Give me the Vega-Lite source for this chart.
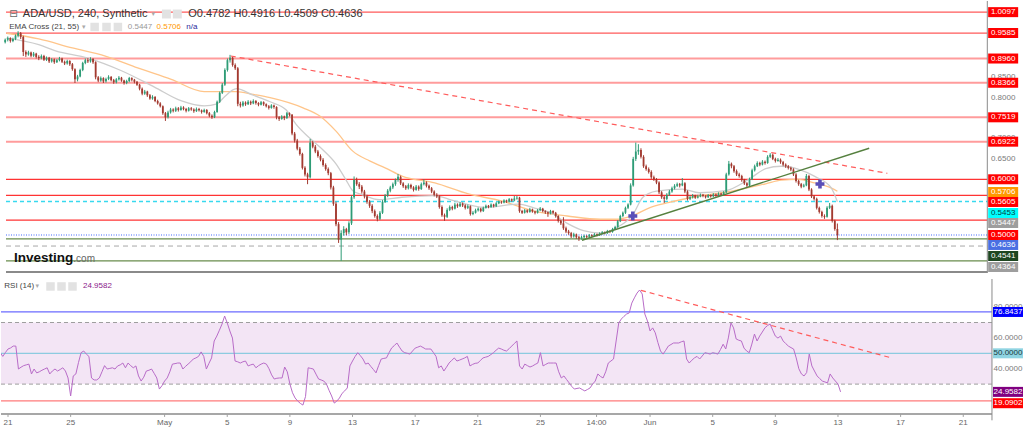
{
"$schema":"https://vega.github.io/schema/vega-lite/v6.json",
"padding":0,
"background":"#ffffff",
"spacing":4,
"resolve":{"scale":{"color":"independent"}},
"config":{"view":{"stroke":null},"axis":{"grid":false},"text":{"font":"Liberation Sans"}},
"datasets":{
"one":[{}],
"candles":[
{"t":"2022-04-20T12:00","o":0.936,"h":0.945,"l":0.933,"c":0.942,"r":50.4},
{"t":"2022-04-20T16:00","o":0.942,"h":0.95,"l":0.938,"c":0.946,"r":48},
{"t":"2022-04-20T20:00","o":0.946,"h":0.948,"l":0.935,"c":0.939,"r":50.5},
{"t":"2022-04-21T00:00","o":0.939,"h":0.947,"l":0.936,"c":0.944,"r":52.8},
{"t":"2022-04-21T04:00","o":0.944,"h":0.955,"l":0.941,"c":0.952,"r":53.5},
{"t":"2022-04-21T08:00","o":0.952,"h":0.963,"l":0.948,"c":0.958,"r":54.7},
{"t":"2022-04-21T12:00","o":0.958,"h":0.961,"l":0.944,"c":0.949,"r":54.7},
{"t":"2022-04-21T16:00","o":0.949,"h":0.952,"l":0.902,"c":0.912,"r":39.8},
{"t":"2022-04-21T20:00","o":0.912,"h":0.916,"l":0.9,"c":0.906,"r":41},
{"t":"2022-04-22T00:00","o":0.906,"h":0.915,"l":0.903,"c":0.911,"r":42},
{"t":"2022-04-22T04:00","o":0.911,"h":0.913,"l":0.899,"c":0.903,"r":42.5},
{"t":"2022-04-22T08:00","o":0.903,"h":0.912,"l":0.9,"c":0.908,"r":43},
{"t":"2022-04-22T12:00","o":0.908,"h":0.91,"l":0.896,"c":0.9,"r":36.6},
{"t":"2022-04-22T16:00","o":0.9,"h":0.904,"l":0.892,"c":0.897,"r":39.8},
{"t":"2022-04-22T20:00","o":0.897,"h":0.906,"l":0.894,"c":0.902,"r":37.3},
{"t":"2022-04-23T00:00","o":0.902,"h":0.905,"l":0.89,"c":0.893,"r":38},
{"t":"2022-04-23T04:00","o":0.893,"h":0.901,"l":0.89,"c":0.898,"r":39},
{"t":"2022-04-23T08:00","o":0.898,"h":0.9,"l":0.885,"c":0.889,"r":39.8},
{"t":"2022-04-23T12:00","o":0.889,"h":0.897,"l":0.886,"c":0.894,"r":40.6},
{"t":"2022-04-23T16:00","o":0.894,"h":0.896,"l":0.883,"c":0.887,"r":36.6},
{"t":"2022-04-23T20:00","o":0.887,"h":0.895,"l":0.885,"c":0.892,"r":38.5},
{"t":"2022-04-24T00:00","o":0.892,"h":0.9,"l":0.889,"c":0.896,"r":39.8},
{"t":"2022-04-24T04:00","o":0.896,"h":0.898,"l":0.885,"c":0.888,"r":38.5},
{"t":"2022-04-24T08:00","o":0.888,"h":0.891,"l":0.88,"c":0.884,"r":39.5},
{"t":"2022-04-24T12:00","o":0.884,"h":0.893,"l":0.881,"c":0.89,"r":40.6},
{"t":"2022-04-24T16:00","o":0.89,"h":0.892,"l":0.878,"c":0.882,"r":38.5},
{"t":"2022-04-24T20:00","o":0.882,"h":0.885,"l":0.866,"c":0.87,"r":34},
{"t":"2022-04-25T00:00","o":0.87,"h":0.872,"l":0.836,"c":0.845,"r":22.3},
{"t":"2022-04-25T04:00","o":0.845,"h":0.856,"l":0.84,"c":0.852,"r":35.3},
{"t":"2022-04-25T08:00","o":0.852,"h":0.871,"l":0.85,"c":0.868,"r":36.6},
{"t":"2022-04-25T12:00","o":0.868,"h":0.888,"l":0.865,"c":0.885,"r":44},
{"t":"2022-04-25T16:00","o":0.885,"h":0.896,"l":0.882,"c":0.892,"r":50.4},
{"t":"2022-04-25T20:00","o":0.892,"h":0.897,"l":0.885,"c":0.889,"r":51.5},
{"t":"2022-04-26T00:00","o":0.889,"h":0.899,"l":0.886,"c":0.895,"r":49.5},
{"t":"2022-04-26T04:00","o":0.895,"h":0.897,"l":0.883,"c":0.887,"r":48},
{"t":"2022-04-26T08:00","o":0.887,"h":0.889,"l":0.845,"c":0.85,"r":34},
{"t":"2022-04-26T12:00","o":0.85,"h":0.853,"l":0.838,"c":0.842,"r":32.7},
{"t":"2022-04-26T16:00","o":0.842,"h":0.852,"l":0.839,"c":0.848,"r":32.7},
{"t":"2022-04-26T20:00","o":0.848,"h":0.85,"l":0.836,"c":0.84,"r":34},
{"t":"2022-04-27T00:00","o":0.84,"h":0.849,"l":0.837,"c":0.846,"r":38},
{"t":"2022-04-27T04:00","o":0.846,"h":0.855,"l":0.843,"c":0.851,"r":42},
{"t":"2022-04-27T08:00","o":0.851,"h":0.853,"l":0.84,"c":0.843,"r":39.8},
{"t":"2022-04-27T12:00","o":0.843,"h":0.846,"l":0.834,"c":0.838,"r":40.2},
{"t":"2022-04-27T16:00","o":0.838,"h":0.848,"l":0.835,"c":0.845,"r":40.6},
{"t":"2022-04-27T20:00","o":0.845,"h":0.853,"l":0.842,"c":0.849,"r":39.8},
{"t":"2022-04-28T00:00","o":0.849,"h":0.851,"l":0.839,"c":0.842,"r":41.8},
{"t":"2022-04-28T04:00","o":0.842,"h":0.844,"l":0.832,"c":0.836,"r":42.5},
{"t":"2022-04-28T08:00","o":0.836,"h":0.844,"l":0.833,"c":0.841,"r":43.7},
{"t":"2022-04-28T12:00","o":0.841,"h":0.851,"l":0.838,"c":0.848,"r":40.6},
{"t":"2022-04-28T16:00","o":0.848,"h":0.85,"l":0.84,"c":0.844,"r":43.7},
{"t":"2022-04-28T20:00","o":0.844,"h":0.846,"l":0.835,"c":0.839,"r":42},
{"t":"2022-04-29T00:00","o":0.839,"h":0.841,"l":0.829,"c":0.832,"r":40.6},
{"t":"2022-04-29T04:00","o":0.832,"h":0.834,"l":0.818,"c":0.822,"r":41.8},
{"t":"2022-04-29T08:00","o":0.822,"h":0.825,"l":0.806,"c":0.81,"r":35.3},
{"t":"2022-04-29T12:00","o":0.81,"h":0.819,"l":0.807,"c":0.815,"r":32},
{"t":"2022-04-29T16:00","o":0.815,"h":0.817,"l":0.802,"c":0.806,"r":34.5},
{"t":"2022-04-29T20:00","o":0.806,"h":0.809,"l":0.795,"c":0.798,"r":38.5},
{"t":"2022-04-30T00:00","o":0.798,"h":0.806,"l":0.795,"c":0.802,"r":39},
{"t":"2022-04-30T04:00","o":0.802,"h":0.804,"l":0.789,"c":0.792,"r":39.8},
{"t":"2022-04-30T08:00","o":0.792,"h":0.795,"l":0.783,"c":0.786,"r":37},
{"t":"2022-04-30T12:00","o":0.786,"h":0.789,"l":0.776,"c":0.779,"r":34},
{"t":"2022-04-30T16:00","o":0.779,"h":0.781,"l":0.758,"c":0.762,"r":26.8},
{"t":"2022-04-30T20:00","o":0.762,"h":0.765,"l":0.743,"c":0.752,"r":29},
{"t":"2022-05-01T00:00","o":0.752,"h":0.768,"l":0.749,"c":0.764,"r":32},
{"t":"2022-05-01T04:00","o":0.764,"h":0.775,"l":0.761,"c":0.771,"r":34},
{"t":"2022-05-01T08:00","o":0.771,"h":0.774,"l":0.764,"c":0.768,"r":38},
{"t":"2022-05-01T12:00","o":0.768,"h":0.778,"l":0.765,"c":0.774,"r":43},
{"t":"2022-05-01T16:00","o":0.774,"h":0.777,"l":0.766,"c":0.77,"r":43.3},
{"t":"2022-05-01T20:00","o":0.77,"h":0.78,"l":0.768,"c":0.776,"r":43.7},
{"t":"2022-05-02T00:00","o":0.776,"h":0.779,"l":0.769,"c":0.772,"r":43.7},
{"t":"2022-05-02T04:00","o":0.772,"h":0.775,"l":0.764,"c":0.768,"r":39.8},
{"t":"2022-05-02T08:00","o":0.768,"h":0.777,"l":0.766,"c":0.774,"r":41.5},
{"t":"2022-05-02T12:00","o":0.774,"h":0.777,"l":0.768,"c":0.771,"r":43},
{"t":"2022-05-02T16:00","o":0.771,"h":0.774,"l":0.763,"c":0.767,"r":44.5},
{"t":"2022-05-02T20:00","o":0.767,"h":0.776,"l":0.765,"c":0.772,"r":46.3},
{"t":"2022-05-03T00:00","o":0.772,"h":0.775,"l":0.766,"c":0.769,"r":47},
{"t":"2022-05-03T04:00","o":0.769,"h":0.771,"l":0.761,"c":0.765,"r":48},
{"t":"2022-05-03T08:00","o":0.765,"h":0.773,"l":0.763,"c":0.77,"r":50.9},
{"t":"2022-05-03T12:00","o":0.77,"h":0.772,"l":0.759,"c":0.762,"r":48},
{"t":"2022-05-03T16:00","o":0.762,"h":0.765,"l":0.752,"c":0.756,"r":39.8},
{"t":"2022-05-03T20:00","o":0.756,"h":0.759,"l":0.748,"c":0.752,"r":43.5},
{"t":"2022-05-04T00:00","o":0.752,"h":0.768,"l":0.75,"c":0.765,"r":47},
{"t":"2022-05-04T04:00","o":0.765,"h":0.793,"l":0.763,"c":0.79,"r":58},
{"t":"2022-05-04T08:00","o":0.79,"h":0.815,"l":0.787,"c":0.812,"r":61.2},
{"t":"2022-05-04T12:00","o":0.812,"h":0.836,"l":0.809,"c":0.832,"r":65},
{"t":"2022-05-04T16:00","o":0.832,"h":0.872,"l":0.829,"c":0.868,"r":69},
{"t":"2022-05-04T20:00","o":0.868,"h":0.896,"l":0.864,"c":0.892,"r":74.2},
{"t":"2022-05-05T00:00","o":0.892,"h":0.905,"l":0.886,"c":0.898,"r":69.7},
{"t":"2022-05-05T04:00","o":0.898,"h":0.901,"l":0.876,"c":0.88,"r":64.5},
{"t":"2022-05-05T08:00","o":0.88,"h":0.884,"l":0.868,"c":0.872,"r":59.9},
{"t":"2022-05-05T12:00","o":0.872,"h":0.875,"l":0.779,"c":0.785,"r":45},
{"t":"2022-05-05T16:00","o":0.785,"h":0.79,"l":0.776,"c":0.781,"r":44.5},
{"t":"2022-05-05T20:00","o":0.781,"h":0.792,"l":0.778,"c":0.788,"r":43.7},
{"t":"2022-05-06T00:00","o":0.788,"h":0.791,"l":0.78,"c":0.784,"r":44.5},
{"t":"2022-05-06T04:00","o":0.784,"h":0.794,"l":0.782,"c":0.79,"r":45},
{"t":"2022-05-06T08:00","o":0.79,"h":0.793,"l":0.782,"c":0.786,"r":41.8},
{"t":"2022-05-06T12:00","o":0.786,"h":0.796,"l":0.784,"c":0.792,"r":42.5},
{"t":"2022-05-06T16:00","o":0.792,"h":0.794,"l":0.783,"c":0.787,"r":43},
{"t":"2022-05-06T20:00","o":0.787,"h":0.789,"l":0.779,"c":0.783,"r":40.6},
{"t":"2022-05-07T00:00","o":0.783,"h":0.792,"l":0.781,"c":0.789,"r":42},
{"t":"2022-05-07T04:00","o":0.789,"h":0.791,"l":0.78,"c":0.784,"r":43},
{"t":"2022-05-07T08:00","o":0.784,"h":0.786,"l":0.776,"c":0.779,"r":43.7},
{"t":"2022-05-07T12:00","o":0.779,"h":0.782,"l":0.771,"c":0.775,"r":43},
{"t":"2022-05-07T16:00","o":0.775,"h":0.784,"l":0.773,"c":0.781,"r":40},
{"t":"2022-05-07T20:00","o":0.781,"h":0.783,"l":0.773,"c":0.777,"r":36},
{"t":"2022-05-08T00:00","o":0.777,"h":0.779,"l":0.747,"c":0.752,"r":33.3},
{"t":"2022-05-08T04:00","o":0.752,"h":0.755,"l":0.743,"c":0.748,"r":33.8},
{"t":"2022-05-08T08:00","o":0.748,"h":0.757,"l":0.746,"c":0.754,"r":34},
{"t":"2022-05-08T12:00","o":0.754,"h":0.756,"l":0.745,"c":0.75,"r":34},
{"t":"2022-05-08T16:00","o":0.75,"h":0.765,"l":0.748,"c":0.762,"r":41.1},
{"t":"2022-05-08T20:00","o":0.762,"h":0.764,"l":0.754,"c":0.758,"r":38},
{"t":"2022-05-09T00:00","o":0.758,"h":0.76,"l":0.708,"c":0.712,"r":30.1},
{"t":"2022-05-09T04:00","o":0.712,"h":0.716,"l":0.69,"c":0.695,"r":24.4},
{"t":"2022-05-09T08:00","o":0.695,"h":0.699,"l":0.671,"c":0.675,"r":21},
{"t":"2022-05-09T12:00","o":0.675,"h":0.679,"l":0.658,"c":0.662,"r":19},
{"t":"2022-05-09T16:00","o":0.662,"h":0.665,"l":0.624,"c":0.628,"r":17.5},
{"t":"2022-05-09T20:00","o":0.628,"h":0.632,"l":0.607,"c":0.612,"r":16.4},
{"t":"2022-05-10T00:00","o":0.612,"h":0.616,"l":0.588,"c":0.605,"r":22},
{"t":"2022-05-10T04:00","o":0.605,"h":0.699,"l":0.602,"c":0.69,"r":40.6},
{"t":"2022-05-10T08:00","o":0.69,"h":0.694,"l":0.676,"c":0.68,"r":40.2},
{"t":"2022-05-10T12:00","o":0.68,"h":0.684,"l":0.664,"c":0.668,"r":39.8},
{"t":"2022-05-10T16:00","o":0.668,"h":0.672,"l":0.653,"c":0.657,"r":36.5},
{"t":"2022-05-10T20:00","o":0.657,"h":0.661,"l":0.644,"c":0.648,"r":33.3},
{"t":"2022-05-11T00:00","o":0.648,"h":0.652,"l":0.631,"c":0.635,"r":32.7},
{"t":"2022-05-11T04:00","o":0.635,"h":0.639,"l":0.621,"c":0.625,"r":32},
{"t":"2022-05-11T08:00","o":0.625,"h":0.629,"l":0.61,"c":0.615,"r":30.1},
{"t":"2022-05-11T12:00","o":0.615,"h":0.618,"l":0.575,"c":0.58,"r":26},
{"t":"2022-05-11T16:00","o":0.58,"h":0.584,"l":0.535,"c":0.54,"r":22.3},
{"t":"2022-05-11T20:00","o":0.54,"h":0.545,"l":0.485,"c":0.49,"r":17.7},
{"t":"2022-05-12T00:00","o":0.49,"h":0.495,"l":0.444,"c":0.452,"r":19},
{"t":"2022-05-12T04:00","o":0.452,"h":0.475,"l":0.4,"c":0.468,"r":21},
{"t":"2022-05-12T08:00","o":0.468,"h":0.485,"l":0.462,"c":0.478,"r":24},
{"t":"2022-05-12T12:00","o":0.478,"h":0.481,"l":0.463,"c":0.47,"r":25.6},
{"t":"2022-05-12T16:00","o":0.47,"h":0.497,"l":0.466,"c":0.492,"r":27.5},
{"t":"2022-05-12T20:00","o":0.492,"h":0.56,"l":0.488,"c":0.556,"r":41.8},
{"t":"2022-05-13T00:00","o":0.556,"h":0.607,"l":0.552,"c":0.598,"r":45},
{"t":"2022-05-13T04:00","o":0.598,"h":0.604,"l":0.584,"c":0.588,"r":48},
{"t":"2022-05-13T08:00","o":0.588,"h":0.593,"l":0.576,"c":0.582,"r":50.4},
{"t":"2022-05-13T12:00","o":0.582,"h":0.586,"l":0.565,"c":0.57,"r":48.5},
{"t":"2022-05-13T16:00","o":0.57,"h":0.574,"l":0.553,"c":0.558,"r":46.3},
{"t":"2022-05-13T20:00","o":0.558,"h":0.562,"l":0.54,"c":0.545,"r":43},
{"t":"2022-05-14T00:00","o":0.545,"h":0.549,"l":0.53,"c":0.535,"r":43.7},
{"t":"2022-05-14T04:00","o":0.535,"h":0.539,"l":0.517,"c":0.522,"r":41.5},
{"t":"2022-05-14T08:00","o":0.522,"h":0.526,"l":0.506,"c":0.51,"r":39.5},
{"t":"2022-05-14T12:00","o":0.51,"h":0.514,"l":0.497,"c":0.503,"r":37.3},
{"t":"2022-05-14T16:00","o":0.503,"h":0.522,"l":0.5,"c":0.518,"r":42},
{"t":"2022-05-14T20:00","o":0.518,"h":0.549,"l":0.515,"c":0.545,"r":46.3},
{"t":"2022-05-15T00:00","o":0.545,"h":0.564,"l":0.542,"c":0.56,"r":46.7},
{"t":"2022-05-15T04:00","o":0.56,"h":0.576,"l":0.556,"c":0.572,"r":47},
{"t":"2022-05-15T08:00","o":0.572,"h":0.584,"l":0.568,"c":0.58,"r":50.4},
{"t":"2022-05-15T12:00","o":0.58,"h":0.592,"l":0.576,"c":0.588,"r":53.5},
{"t":"2022-05-15T16:00","o":0.588,"h":0.602,"l":0.584,"c":0.598,"r":55},
{"t":"2022-05-15T20:00","o":0.598,"h":0.613,"l":0.594,"c":0.606,"r":56.7},
{"t":"2022-05-16T00:00","o":0.606,"h":0.609,"l":0.586,"c":0.59,"r":54},
{"t":"2022-05-16T04:00","o":0.59,"h":0.593,"l":0.579,"c":0.583,"r":51.5},
{"t":"2022-05-16T08:00","o":0.583,"h":0.586,"l":0.574,"c":0.578,"r":50.4},
{"t":"2022-05-16T12:00","o":0.578,"h":0.59,"l":0.575,"c":0.586,"r":50},
{"t":"2022-05-16T16:00","o":0.586,"h":0.589,"l":0.576,"c":0.58,"r":49.5},
{"t":"2022-05-16T20:00","o":0.58,"h":0.583,"l":0.57,"c":0.574,"r":51.5},
{"t":"2022-05-17T00:00","o":0.574,"h":0.586,"l":0.572,"c":0.582,"r":53.4},
{"t":"2022-05-17T04:00","o":0.582,"h":0.585,"l":0.572,"c":0.576,"r":54},
{"t":"2022-05-17T08:00","o":0.576,"h":0.592,"l":0.574,"c":0.588,"r":54.7},
{"t":"2022-05-17T12:00","o":0.588,"h":0.6,"l":0.585,"c":0.592,"r":53.8},
{"t":"2022-05-17T16:00","o":0.592,"h":0.595,"l":0.58,"c":0.584,"r":52.8},
{"t":"2022-05-17T20:00","o":0.584,"h":0.587,"l":0.574,"c":0.578,"r":52.8},
{"t":"2022-05-18T00:00","o":0.578,"h":0.581,"l":0.566,"c":0.57,"r":52.8},
{"t":"2022-05-18T04:00","o":0.57,"h":0.573,"l":0.558,"c":0.562,"r":50.5},
{"t":"2022-05-18T08:00","o":0.562,"h":0.566,"l":0.554,"c":0.558,"r":48},
{"t":"2022-05-18T12:00","o":0.558,"h":0.561,"l":0.528,"c":0.532,"r":40.6},
{"t":"2022-05-18T16:00","o":0.532,"h":0.536,"l":0.508,"c":0.512,"r":41.8},
{"t":"2022-05-18T20:00","o":0.512,"h":0.516,"l":0.498,"c":0.508,"r":38.5},
{"t":"2022-05-19T00:00","o":0.508,"h":0.529,"l":0.505,"c":0.525,"r":41},
{"t":"2022-05-19T04:00","o":0.525,"h":0.536,"l":0.522,"c":0.532,"r":43.7},
{"t":"2022-05-19T08:00","o":0.532,"h":0.535,"l":0.524,"c":0.528,"r":45.4},
{"t":"2022-05-19T12:00","o":0.528,"h":0.542,"l":0.526,"c":0.538,"r":47},
{"t":"2022-05-19T16:00","o":0.538,"h":0.541,"l":0.53,"c":0.534,"r":45},
{"t":"2022-05-19T20:00","o":0.534,"h":0.544,"l":0.532,"c":0.54,"r":45.6},
{"t":"2022-05-20T00:00","o":0.54,"h":0.543,"l":0.532,"c":0.536,"r":46.3},
{"t":"2022-05-20T04:00","o":0.536,"h":0.539,"l":0.526,"c":0.53,"r":47},
{"t":"2022-05-20T08:00","o":0.53,"h":0.538,"l":0.527,"c":0.534,"r":48},
{"t":"2022-05-20T12:00","o":0.534,"h":0.536,"l":0.511,"c":0.515,"r":41.8},
{"t":"2022-05-20T16:00","o":0.515,"h":0.522,"l":0.512,"c":0.518,"r":42.8},
{"t":"2022-05-20T20:00","o":0.518,"h":0.528,"l":0.516,"c":0.524,"r":43.5},
{"t":"2022-05-21T00:00","o":0.524,"h":0.531,"l":0.521,"c":0.528,"r":43.7},
{"t":"2022-05-21T04:00","o":0.528,"h":0.53,"l":0.519,"c":0.522,"r":45.4},
{"t":"2022-05-21T08:00","o":0.522,"h":0.533,"l":0.52,"c":0.53,"r":47},
{"t":"2022-05-21T12:00","o":0.53,"h":0.538,"l":0.528,"c":0.535,"r":47.5},
{"t":"2022-05-21T16:00","o":0.535,"h":0.537,"l":0.529,"c":0.532,"r":48},
{"t":"2022-05-21T20:00","o":0.532,"h":0.541,"l":0.53,"c":0.538,"r":49.2},
{"t":"2022-05-22T00:00","o":0.538,"h":0.54,"l":0.531,"c":0.534,"r":50.4},
{"t":"2022-05-22T04:00","o":0.534,"h":0.544,"l":0.532,"c":0.541,"r":52},
{"t":"2022-05-22T08:00","o":0.541,"h":0.548,"l":0.539,"c":0.545,"r":53.4},
{"t":"2022-05-22T12:00","o":0.545,"h":0.547,"l":0.54,"c":0.543,"r":52.8},
{"t":"2022-05-22T16:00","o":0.543,"h":0.551,"l":0.541,"c":0.548,"r":52},
{"t":"2022-05-22T20:00","o":0.548,"h":0.55,"l":0.542,"c":0.545,"r":51.5},
{"t":"2022-05-23T00:00","o":0.545,"h":0.554,"l":0.543,"c":0.551,"r":53},
{"t":"2022-05-23T04:00","o":0.551,"h":0.553,"l":0.545,"c":0.548,"r":54.7},
{"t":"2022-05-23T08:00","o":0.548,"h":0.559,"l":0.546,"c":0.553,"r":56.4},
{"t":"2022-05-23T12:00","o":0.553,"h":0.559,"l":0.55,"c":0.555,"r":58},
{"t":"2022-05-23T16:00","o":0.555,"h":0.557,"l":0.518,"c":0.522,"r":41.8},
{"t":"2022-05-23T20:00","o":0.522,"h":0.525,"l":0.515,"c":0.518,"r":39.8},
{"t":"2022-05-24T00:00","o":0.518,"h":0.527,"l":0.516,"c":0.524,"r":43},
{"t":"2022-05-24T04:00","o":0.524,"h":0.526,"l":0.517,"c":0.52,"r":42},
{"t":"2022-05-24T08:00","o":0.52,"h":0.53,"l":0.518,"c":0.526,"r":41.1},
{"t":"2022-05-24T12:00","o":0.526,"h":0.528,"l":0.518,"c":0.521,"r":41.8},
{"t":"2022-05-24T16:00","o":0.521,"h":0.523,"l":0.514,"c":0.518,"r":42.8},
{"t":"2022-05-24T20:00","o":0.518,"h":0.527,"l":0.516,"c":0.524,"r":43.7},
{"t":"2022-05-25T00:00","o":0.524,"h":0.532,"l":0.522,"c":0.528,"r":50.4},
{"t":"2022-05-25T04:00","o":0.528,"h":0.53,"l":0.519,"c":0.522,"r":41.8},
{"t":"2022-05-25T08:00","o":0.522,"h":0.524,"l":0.515,"c":0.519,"r":42.8},
{"t":"2022-05-25T12:00","o":0.519,"h":0.521,"l":0.508,"c":0.516,"r":43.7},
{"t":"2022-05-25T16:00","o":0.516,"h":0.525,"l":0.514,"c":0.522,"r":43.7},
{"t":"2022-05-25T20:00","o":0.522,"h":0.524,"l":0.515,"c":0.518,"r":43.7},
{"t":"2022-05-26T00:00","o":0.518,"h":0.52,"l":0.506,"c":0.51,"r":43.7},
{"t":"2022-05-26T04:00","o":0.51,"h":0.512,"l":0.494,"c":0.498,"r":38},
{"t":"2022-05-26T08:00","o":0.498,"h":0.501,"l":0.488,"c":0.492,"r":34},
{"t":"2022-05-26T12:00","o":0.492,"h":0.507,"l":0.476,"c":0.48,"r":35.3},
{"t":"2022-05-26T16:00","o":0.48,"h":0.484,"l":0.468,"c":0.472,"r":33},
{"t":"2022-05-26T20:00","o":0.472,"h":0.476,"l":0.464,"c":0.468,"r":30.8},
{"t":"2022-05-27T00:00","o":0.468,"h":0.471,"l":0.456,"c":0.46,"r":28.5},
{"t":"2022-05-27T04:00","o":0.46,"h":0.469,"l":0.457,"c":0.465,"r":26.8},
{"t":"2022-05-27T08:00","o":0.465,"h":0.467,"l":0.454,"c":0.458,"r":27.2},
{"t":"2022-05-27T12:00","o":0.458,"h":0.461,"l":0.449,"c":0.455,"r":27.5},
{"t":"2022-05-27T16:00","o":0.455,"h":0.461,"l":0.452,"c":0.458,"r":26.5},
{"t":"2022-05-27T20:00","o":0.458,"h":0.464,"l":0.455,"c":0.461,"r":25.6},
{"t":"2022-05-28T00:00","o":0.461,"h":0.463,"l":0.456,"c":0.459,"r":26.5},
{"t":"2022-05-28T04:00","o":0.459,"h":0.466,"l":0.457,"c":0.463,"r":27.5},
{"t":"2022-05-28T08:00","o":0.463,"h":0.465,"l":0.458,"c":0.461,"r":30},
{"t":"2022-05-28T12:00","o":0.461,"h":0.468,"l":0.459,"c":0.465,"r":32},
{"t":"2022-05-28T16:00","o":0.465,"h":0.467,"l":0.46,"c":0.463,"r":36.6},
{"t":"2022-05-28T20:00","o":0.463,"h":0.47,"l":0.461,"c":0.467,"r":35},
{"t":"2022-05-29T00:00","o":0.467,"h":0.473,"l":0.465,"c":0.47,"r":34},
{"t":"2022-05-29T04:00","o":0.47,"h":0.472,"l":0.465,"c":0.468,"r":38},
{"t":"2022-05-29T08:00","o":0.468,"h":0.476,"l":0.466,"c":0.473,"r":43.7},
{"t":"2022-05-29T12:00","o":0.473,"h":0.475,"l":0.468,"c":0.471,"r":45},
{"t":"2022-05-29T16:00","o":0.471,"h":0.481,"l":0.469,"c":0.478,"r":46.3},
{"t":"2022-05-29T20:00","o":0.478,"h":0.486,"l":0.476,"c":0.483,"r":58},
{"t":"2022-05-30T00:00","o":0.483,"h":0.5,"l":0.481,"c":0.497,"r":69.7},
{"t":"2022-05-30T04:00","o":0.497,"h":0.513,"l":0.495,"c":0.51,"r":72.3},
{"t":"2022-05-30T08:00","o":0.51,"h":0.521,"l":0.507,"c":0.518,"r":74},
{"t":"2022-05-30T12:00","o":0.518,"h":0.533,"l":0.515,"c":0.53,"r":75.5},
{"t":"2022-05-30T16:00","o":0.53,"h":0.541,"l":0.527,"c":0.538,"r":76.2},
{"t":"2022-05-30T20:00","o":0.538,"h":0.59,"l":0.536,"c":0.585,"r":82.6},
{"t":"2022-05-31T00:00","o":0.585,"h":0.655,"l":0.582,"c":0.65,"r":86},
{"t":"2022-05-31T04:00","o":0.65,"h":0.69,"l":0.645,"c":0.668,"r":89.1},
{"t":"2022-05-31T08:00","o":0.668,"h":0.686,"l":0.66,"c":0.672,"r":91.1},
{"t":"2022-05-31T12:00","o":0.672,"h":0.676,"l":0.651,"c":0.655,"r":88.5},
{"t":"2022-05-31T16:00","o":0.655,"h":0.659,"l":0.628,"c":0.632,"r":75.5},
{"t":"2022-05-31T20:00","o":0.632,"h":0.636,"l":0.621,"c":0.625,"r":71},
{"t":"2022-06-01T00:00","o":0.625,"h":0.629,"l":0.614,"c":0.618,"r":64.5},
{"t":"2022-06-01T04:00","o":0.618,"h":0.622,"l":0.601,"c":0.605,"r":66.5},
{"t":"2022-06-01T08:00","o":0.605,"h":0.609,"l":0.596,"c":0.6,"r":63.3},
{"t":"2022-06-01T12:00","o":0.6,"h":0.603,"l":0.588,"c":0.592,"r":57},
{"t":"2022-06-01T16:00","o":0.592,"h":0.595,"l":0.564,"c":0.568,"r":51.5},
{"t":"2022-06-01T20:00","o":0.568,"h":0.571,"l":0.552,"c":0.556,"r":49.5},
{"t":"2022-06-02T00:00","o":0.556,"h":0.559,"l":0.542,"c":0.552,"r":52},
{"t":"2022-06-02T04:00","o":0.552,"h":0.566,"l":0.549,"c":0.562,"r":54.7},
{"t":"2022-06-02T08:00","o":0.562,"h":0.574,"l":0.559,"c":0.57,"r":55.7},
{"t":"2022-06-02T12:00","o":0.57,"h":0.582,"l":0.567,"c":0.578,"r":56.7},
{"t":"2022-06-02T16:00","o":0.578,"h":0.588,"l":0.575,"c":0.584,"r":56.7},
{"t":"2022-06-02T20:00","o":0.584,"h":0.592,"l":0.581,"c":0.588,"r":56.7},
{"t":"2022-06-03T00:00","o":0.588,"h":0.591,"l":0.58,"c":0.585,"r":57.5},
{"t":"2022-06-03T04:00","o":0.585,"h":0.603,"l":0.583,"c":0.59,"r":58},
{"t":"2022-06-03T08:00","o":0.59,"h":0.593,"l":0.566,"c":0.57,"r":46.3},
{"t":"2022-06-03T12:00","o":0.57,"h":0.573,"l":0.548,"c":0.552,"r":43.7},
{"t":"2022-06-03T16:00","o":0.552,"h":0.56,"l":0.549,"c":0.556,"r":45.5},
{"t":"2022-06-03T20:00","o":0.556,"h":0.564,"l":0.553,"c":0.56,"r":47},
{"t":"2022-06-04T00:00","o":0.56,"h":0.562,"l":0.552,"c":0.555,"r":48},
{"t":"2022-06-04T04:00","o":0.555,"h":0.562,"l":0.553,"c":0.558,"r":46.3},
{"t":"2022-06-04T08:00","o":0.558,"h":0.565,"l":0.556,"c":0.562,"r":48.3},
{"t":"2022-06-04T12:00","o":0.562,"h":0.564,"l":0.556,"c":0.559,"r":50.4},
{"t":"2022-06-04T16:00","o":0.559,"h":0.561,"l":0.553,"c":0.556,"r":50},
{"t":"2022-06-04T20:00","o":0.556,"h":0.564,"l":0.554,"c":0.561,"r":49.5},
{"t":"2022-06-05T00:00","o":0.561,"h":0.563,"l":0.555,"c":0.558,"r":50.4},
{"t":"2022-06-05T04:00","o":0.558,"h":0.566,"l":0.556,"c":0.563,"r":50},
{"t":"2022-06-05T08:00","o":0.563,"h":0.565,"l":0.557,"c":0.56,"r":49.5},
{"t":"2022-06-05T12:00","o":0.56,"h":0.568,"l":0.558,"c":0.565,"r":52.5},
{"t":"2022-06-05T16:00","o":0.565,"h":0.567,"l":0.559,"c":0.562,"r":55.9},
{"t":"2022-06-05T20:00","o":0.562,"h":0.571,"l":0.56,"c":0.568,"r":52.8},
{"t":"2022-06-06T00:00","o":0.568,"h":0.616,"l":0.566,"c":0.612,"r":60},
{"t":"2022-06-06T04:00","o":0.612,"h":0.645,"l":0.609,"c":0.638,"r":69.7},
{"t":"2022-06-06T08:00","o":0.638,"h":0.641,"l":0.627,"c":0.632,"r":66.5},
{"t":"2022-06-06T12:00","o":0.632,"h":0.635,"l":0.616,"c":0.62,"r":59.3},
{"t":"2022-06-06T16:00","o":0.62,"h":0.624,"l":0.608,"c":0.612,"r":58.5},
{"t":"2022-06-06T20:00","o":0.612,"h":0.616,"l":0.604,"c":0.608,"r":58},
{"t":"2022-06-07T00:00","o":0.608,"h":0.611,"l":0.594,"c":0.598,"r":53.4},
{"t":"2022-06-07T04:00","o":0.598,"h":0.601,"l":0.586,"c":0.59,"r":51.5},
{"t":"2022-06-07T08:00","o":0.59,"h":0.593,"l":0.58,"c":0.585,"r":50.4},
{"t":"2022-06-07T12:00","o":0.585,"h":0.604,"l":0.583,"c":0.6,"r":56},
{"t":"2022-06-07T16:00","o":0.6,"h":0.626,"l":0.598,"c":0.622,"r":62.5},
{"t":"2022-06-07T20:00","o":0.622,"h":0.636,"l":0.619,"c":0.632,"r":58},
{"t":"2022-06-08T00:00","o":0.632,"h":0.644,"l":0.63,"c":0.64,"r":61.2},
{"t":"2022-06-08T04:00","o":0.64,"h":0.643,"l":0.632,"c":0.636,"r":63.8},
{"t":"2022-06-08T08:00","o":0.636,"h":0.647,"l":0.634,"c":0.643,"r":66.5},
{"t":"2022-06-08T12:00","o":0.643,"h":0.646,"l":0.636,"c":0.64,"r":68},
{"t":"2022-06-08T16:00","o":0.64,"h":0.659,"l":0.638,"c":0.655,"r":69},
{"t":"2022-06-08T20:00","o":0.655,"h":0.664,"l":0.652,"c":0.66,"r":65},
{"t":"2022-06-09T00:00","o":0.66,"h":0.663,"l":0.647,"c":0.65,"r":61.2},
{"t":"2022-06-09T04:00","o":0.65,"h":0.653,"l":0.641,"c":0.645,"r":59.9},
{"t":"2022-06-09T08:00","o":0.645,"h":0.652,"l":0.643,"c":0.648,"r":61.2},
{"t":"2022-06-09T12:00","o":0.648,"h":0.651,"l":0.638,"c":0.642,"r":58},
{"t":"2022-06-09T16:00","o":0.642,"h":0.645,"l":0.632,"c":0.636,"r":56.3},
{"t":"2022-06-09T20:00","o":0.636,"h":0.639,"l":0.628,"c":0.632,"r":54.7},
{"t":"2022-06-10T00:00","o":0.632,"h":0.635,"l":0.624,"c":0.628,"r":53.7},
{"t":"2022-06-10T04:00","o":0.628,"h":0.631,"l":0.62,"c":0.624,"r":52.8},
{"t":"2022-06-10T08:00","o":0.624,"h":0.627,"l":0.608,"c":0.612,"r":47},
{"t":"2022-06-10T12:00","o":0.612,"h":0.615,"l":0.592,"c":0.596,"r":40},
{"t":"2022-06-10T16:00","o":0.596,"h":0.599,"l":0.584,"c":0.588,"r":36.6},
{"t":"2022-06-10T20:00","o":0.588,"h":0.591,"l":0.578,"c":0.582,"r":35.3},
{"t":"2022-06-11T00:00","o":0.582,"h":0.589,"l":0.58,"c":0.585,"r":37.5},
{"t":"2022-06-11T04:00","o":0.585,"h":0.613,"l":0.583,"c":0.608,"r":49.5},
{"t":"2022-06-11T08:00","o":0.608,"h":0.611,"l":0.571,"c":0.575,"r":41.8},
{"t":"2022-06-11T12:00","o":0.575,"h":0.578,"l":0.554,"c":0.558,"r":38.5},
{"t":"2022-06-11T16:00","o":0.558,"h":0.561,"l":0.548,"c":0.552,"r":35.3},
{"t":"2022-06-11T20:00","o":0.552,"h":0.555,"l":0.526,"c":0.53,"r":33.6},
{"t":"2022-06-12T00:00","o":0.53,"h":0.533,"l":0.516,"c":0.52,"r":32},
{"t":"2022-06-12T04:00","o":0.52,"h":0.523,"l":0.506,"c":0.51,"r":31.4},
{"t":"2022-06-12T08:00","o":0.51,"h":0.514,"l":0.503,"c":0.508,"r":30.8},
{"t":"2022-06-12T12:00","o":0.508,"h":0.534,"l":0.506,"c":0.53,"r":36.6},
{"t":"2022-06-12T16:00","o":0.53,"h":0.542,"l":0.527,"c":0.535,"r":34},
{"t":"2022-06-12T20:00","o":0.535,"h":0.538,"l":0.494,"c":0.498,"r":32},
{"t":"2022-06-13T00:00","o":0.498,"h":0.501,"l":0.474,"c":0.4782,"r":30.1},
{"t":"2022-06-13T04:00","o":0.4782,"h":0.4916,"l":0.4509,"c":0.4636,"r":24.9582}
],
"ema55":[
{"t":"2022-04-20T14:00","v":0.958},{"t":"2022-04-22T16:00","v":0.944},{"t":"2022-04-24T20:00","v":0.922},{"t":"2022-04-26T23:00","v":0.902},{"t":"2022-04-29T01:00","v":0.873},{"t":"2022-05-01T05:00","v":0.845},{"t":"2022-05-03T08:00","v":0.815},{"t":"2022-05-05T10:00","v":0.815},{"t":"2022-05-06T12:00","v":0.808},{"t":"2022-05-07T14:00","v":0.8},{"t":"2022-05-09T17:00","v":0.775},{"t":"2022-05-10T19:00","v":0.755},{"t":"2022-05-11T20:00","v":0.718},{"t":"2022-05-12T22:00","v":0.669},{"t":"2022-05-14T00:00","v":0.645},{"t":"2022-05-15T00:00","v":0.628},{"t":"2022-05-16T02:00","v":0.608},{"t":"2022-05-18T05:00","v":0.591},{"t":"2022-05-20T09:00","v":0.564},{"t":"2022-05-22T12:00","v":0.547},{"t":"2022-05-24T14:00","v":0.522},{"t":"2022-05-26T18:00","v":0.51},{"t":"2022-05-28T21:00","v":0.502},{"t":"2022-05-29T23:00","v":0.502},{"t":"2022-05-30T23:00","v":0.511},{"t":"2022-06-01T01:00","v":0.53},{"t":"2022-06-02T04:00","v":0.542},{"t":"2022-06-04T06:00","v":0.559},{"t":"2022-06-06T09:00","v":0.571},{"t":"2022-06-08T13:00","v":0.589},{"t":"2022-06-09T13:00","v":0.598},{"t":"2022-06-10T15:00","v":0.6},{"t":"2022-06-11T17:00","v":0.591},{"t":"2022-06-12T18:00","v":0.579},{"t":"2022-06-13T04:00","v":0.5706}
],
"ema21":[
{"t":"2022-04-20T14:00","v":0.946},{"t":"2022-04-22T16:00","v":0.93},{"t":"2022-04-23T18:00","v":0.915},{"t":"2022-04-25T20:00","v":0.897},{"t":"2022-04-28T00:00","v":0.866},{"t":"2022-04-30T03:00","v":0.826},{"t":"2022-05-01T21:00","v":0.792},{"t":"2022-05-03T08:00","v":0.78},{"t":"2022-05-04T04:00","v":0.785},{"t":"2022-05-04T14:00","v":0.8},{"t":"2022-05-05T10:00","v":0.822},{"t":"2022-05-06T12:00","v":0.806},{"t":"2022-05-07T14:00","v":0.79},{"t":"2022-05-08T15:00","v":0.77},{"t":"2022-05-09T06:00","v":0.735},{"t":"2022-05-10T04:00","v":0.7},{"t":"2022-05-11T00:00","v":0.672},{"t":"2022-05-11T20:00","v":0.638},{"t":"2022-05-12T11:00","v":0.6},{"t":"2022-05-12T22:00","v":0.572},{"t":"2022-05-13T13:00","v":0.562},{"t":"2022-05-14T15:00","v":0.55},{"t":"2022-05-16T02:00","v":0.556},{"t":"2022-05-18T05:00","v":0.56},{"t":"2022-05-19T07:00","v":0.549},{"t":"2022-05-21T10:00","v":0.531},{"t":"2022-05-23T14:00","v":0.539},{"t":"2022-05-24T14:00","v":0.53},{"t":"2022-05-25T16:00","v":0.518},{"t":"2022-05-26T18:00","v":0.492},{"t":"2022-05-27T19:00","v":0.474},{"t":"2022-05-28T21:00","v":0.468},{"t":"2022-05-29T23:00","v":0.482},{"t":"2022-05-30T23:00","v":0.512},{"t":"2022-05-31T15:00","v":0.556},{"t":"2022-06-01T12:00","v":0.571},{"t":"2022-06-03T04:00","v":0.576},{"t":"2022-06-04T06:00","v":0.567},{"t":"2022-06-05T23:00","v":0.572},{"t":"2022-06-07T11:00","v":0.6},{"t":"2022-06-08T13:00","v":0.626},{"t":"2022-06-09T13:00","v":0.632},{"t":"2022-06-10T15:00","v":0.625},{"t":"2022-06-11T17:00","v":0.607},{"t":"2022-06-12T18:00","v":0.58},{"t":"2022-06-13T04:00","v":0.5447}
],
"xticks":[
{"t":"2022-04-21T00:00","lab":"21"},{"t":"2022-04-25T00:00","lab":"25"},{"t":"2022-05-01T00:00","lab":"May"},{"t":"2022-05-05T00:00","lab":"5"},{"t":"2022-05-09T00:00","lab":"9"},{"t":"2022-05-13T00:00","lab":"13"},{"t":"2022-05-17T00:00","lab":"17"},{"t":"2022-05-21T00:00","lab":"21"},{"t":"2022-05-25T00:00","lab":"25"},{"t":"2022-05-28T14:00","lab":"14:00"},{"t":"2022-06-01T00:00","lab":"Jun"},{"t":"2022-06-05T00:00","lab":"5"},{"t":"2022-06-09T00:00","lab":"9"},{"t":"2022-06-13T00:00","lab":"13"},{"t":"2022-06-17T00:00","lab":"17"},{"t":"2022-06-21T00:00","lab":"21"}
]
},
"vconcat":[
{
"width":1024,"height":272,
"layer":[
{"data":{"values":[{"v":0.896},{"v":0.8366},{"v":0.7519},{"v":0.6922}]},"mark":{"type":"rule","color":"#ff9c9c","strokeWidth":2},
 "encoding":{"y":{"field":"v","type":"quantitative","scale":{"domain":[0.3703,1.037],"zero":false,"nice":false},"axis":null},"x":{"datum":{"year":2022,"month":4,"date":20,"hours":13,"minutes":16},"type":"temporal","scale":{"domain":[{"year":2022,"month":4,"date":20,"hours":13,"minutes":16},{"year":2022,"month":6,"date":24,"hours":22,"minutes":38}]},"axis":null},"x2":{"datum":{"year":2022,"month":6,"date":22,"hours":20,"minutes":2}}}},
{"data":{"values":[{"v":1.0097},{"v":0.9585}]},"mark":{"type":"rule","color":"#ff5a5a","strokeWidth":1.3},
 "encoding":{"y":{"field":"v","type":"quantitative","axis":null},"x":{"datum":{"year":2022,"month":4,"date":20,"hours":13,"minutes":16},"type":"temporal","axis":null},"x2":{"datum":{"year":2022,"month":6,"date":22,"hours":20,"minutes":2}}}},
{"data":{"values":[{"v":0.6},{"v":0.5605},{"v":0.5}]},"mark":{"type":"rule","color":"#ff3333","strokeWidth":1.2},
 "encoding":{"y":{"field":"v","type":"quantitative","axis":null},"x":{"datum":{"year":2022,"month":4,"date":20,"hours":13,"minutes":16},"type":"temporal","axis":null},"x2":{"datum":{"year":2022,"month":6,"date":22,"hours":20,"minutes":2}}}},
{"data":{"values":[{"v":0.5453}]},"mark":{"type":"rule","color":"#38d9ef","strokeWidth":1.5,"strokeDash":[4,3]},
 "encoding":{"y":{"field":"v","type":"quantitative","axis":null},"x":{"datum":{"year":2022,"month":4,"date":20,"hours":13,"minutes":16},"type":"temporal","axis":null},"x2":{"datum":{"year":2022,"month":6,"date":22,"hours":20,"minutes":2}}}},
{"data":{"values":[{"v":0.4636}]},"mark":{"type":"rule","color":"#9fb3ff","strokeWidth":2,"strokeDash":[1,1.5]},
 "encoding":{"y":{"field":"v","type":"quantitative","axis":null},"x":{"datum":{"year":2022,"month":4,"date":20,"hours":13,"minutes":16},"type":"temporal","axis":null},"x2":{"datum":{"year":2022,"month":6,"date":22,"hours":20,"minutes":2}}}},
{"data":{"values":[{"v":0.4541},{"v":0.4}]},"mark":{"type":"rule","color":"#688c4c","strokeWidth":1.2},
 "encoding":{"y":{"field":"v","type":"quantitative","axis":null},"x":{"datum":{"year":2022,"month":4,"date":20,"hours":13,"minutes":16},"type":"temporal","axis":null},"x2":{"datum":{"year":2022,"month":6,"date":22,"hours":20,"minutes":2}}}},
{"data":{"values":[{"v":0.4364}]},"mark":{"type":"rule","color":"#a8a8a8","strokeWidth":1,"strokeDash":[5,4]},
 "encoding":{"y":{"field":"v","type":"quantitative","axis":null},"x":{"datum":{"year":2022,"month":4,"date":20,"hours":13,"minutes":16},"type":"temporal","axis":null},"x2":{"datum":{"year":2022,"month":6,"date":22,"hours":20,"minutes":2}}}},
{"data":{"name":"ema55"},"mark":{"type":"line","color":"#ffc58a","strokeWidth":1.3,"interpolate":"monotone","clip":true},
 "encoding":{"x":{"field":"t","type":"temporal","axis":null},"y":{"field":"v","type":"quantitative","axis":null}}},
{"data":{"name":"ema21"},"mark":{"type":"line","color":"#cdcdcd","strokeWidth":1.3,"interpolate":"monotone","clip":true},
 "encoding":{"x":{"field":"t","type":"temporal","axis":null},"y":{"field":"v","type":"quantitative","axis":null}}},
{"data":{"name":"candles"},"mark":{"type":"rule","strokeWidth":1,"clip":true},
 "encoding":{"x":{"field":"t","type":"temporal","axis":null},"y":{"field":"l","type":"quantitative","axis":null},"y2":{"field":"h"},
 "color":{"condition":{"test":"datum.c >= datum.o","value":"#2e9c76"},"value":"#a33a30"}}},
{"data":{"name":"candles"},"mark":{"type":"bar","size":1.8,"clip":true},
 "encoding":{"x":{"field":"t","type":"temporal","axis":null},"y":{"field":"o","type":"quantitative","axis":null},"y2":{"field":"c"},
 "color":{"condition":{"test":"datum.c >= datum.o","value":"#2e9c76"},"value":"#a33a30"}}},
{"data":{"values":[{"t":"2022-05-05T01:10","p":0.9022},{"t":"2022-06-16T09:16","p":0.6147}]},"mark":{"type":"line","color":"#ff5c5c","strokeWidth":1.2,"strokeDash":[5,4]},
 "encoding":{"x":{"field":"t","type":"temporal","axis":null},"y":{"field":"p","type":"quantitative","axis":null}}},
{"data":{"values":[{"t":"2022-05-27T16:45","p":0.4505},{"t":"2022-06-15T05:12","p":0.676}]},"mark":{"type":"line","color":"#55803f","strokeWidth":1.4},
 "encoding":{"x":{"field":"t","type":"temporal","axis":null},"y":{"field":"p","type":"quantitative","axis":null}}},
{"data":{"values":[{"t":"2022-05-30T23:23","p":0.51},{"t":"2022-06-12T01:02","p":0.5885}]},"mark":{"type":"point","shape":"cross","filled":true,"size":80,"color":"#5a4fb8","opacity":1},
 "encoding":{"x":{"field":"t","type":"temporal","axis":null},"y":{"field":"p","type":"quantitative","axis":null}}},
{"data":{"name":"one"},"mark":{"type":"rule","color":"#8a8a8a","strokeWidth":1},"encoding":{"x":{"datum":{"year":2022,"month":6,"date":22,"hours":20,"minutes":2},"type":"temporal","axis":null}}},
{"data":{"name":"one"},"mark":{"type":"rule","color":"#8a8a8a","strokeWidth":2},"encoding":{"y":{"datum":0.3728,"type":"quantitative","axis":null},"x":{"datum":{"year":2022,"month":4,"date":20,"hours":13,"minutes":16},"type":"temporal","axis":null},"x2":{"datum":{"year":2022,"month":6,"date":22,"hours":20,"minutes":2}}}},
{"data":{"values":[{"v":0.65},{"v":0.7},{"v":0.8},{"v":0.85}]},"mark":{"type":"text","fontSize":8,"color":"#7a7a7a","align":"center","baseline":"middle"},
 "encoding":{"x":{"datum":{"year":2022,"month":6,"date":23,"hours":20,"minutes":34},"type":"temporal","axis":null},"y":{"field":"v","type":"quantitative","axis":null},"text":{"field":"v","type":"quantitative","format":".4f"}}},
{"data":{"values":[{"v":1.0097,"lp":1.0097,"k":"r"},{"v":0.9585,"lp":0.9585,"k":"r"},{"v":0.896,"lp":0.896,"k":"r"},{"v":0.8366,"lp":0.8366,"k":"r"},{"v":0.7519,"lp":0.7519,"k":"r"},{"v":0.6922,"lp":0.6922,"k":"r"},{"v":0.6,"lp":0.6,"k":"r"},{"v":0.5706,"lp":0.5689,"k":"o"},{"v":0.5605,"lp":0.5444,"k":"r"},{"v":0.5453,"lp":0.5174,"k":"c"},{"v":0.5447,"lp":0.4929,"k":"g"},{"v":0.5,"lp":0.4635,"k":"r"},{"v":0.4636,"lp":0.439,"k":"b"},{"v":0.4541,"lp":0.412,"k":"d"},{"v":0.4364,"lp":0.385,"k":"g"}]},
 "layer":[
 {"mark":{"type":"tick","orient":"horizontal","size":30,"thickness":10,"opacity":1},
  "encoding":{"x":{"datum":{"year":2022,"month":6,"date":23,"hours":20,"minutes":34},"type":"temporal","axis":null},"y":{"field":"lp","type":"quantitative","axis":null},
  "color":{"field":"k","type":"nominal","legend":null,"scale":{"domain":["r","o","c","g","b","d"],"range":["#ff0000","#ff9800","#00ffff","#9e9e9e","#4a6fe3","#1e4620"]}}}},
 {"mark":{"type":"text","fontSize":8,"align":"center","baseline":"middle"},
  "encoding":{"x":{"datum":{"year":2022,"month":6,"date":23,"hours":20,"minutes":34},"type":"temporal","axis":null},"y":{"field":"lp","type":"quantitative","axis":null},
  "text":{"field":"v","type":"quantitative","format":".4f"},
  "color":{"condition":{"test":"datum.k == 'c'","value":"#004444"},"value":"#ffffff"}}}
 ]},
{"data":{"name":"one"},"mark":{"type":"text","font":"DejaVu Sans","fontSize":10,"color":"#666","align":"left","baseline":"middle"},
 "encoding":{"x":{"datum":{"year":2022,"month":4,"date":20,"hours":18,"minutes":20},"type":"temporal","axis":null},"y":{"datum":1.0051,"type":"quantitative","axis":null},"text":{"value":"⊟"}}},
{"data":{"name":"one"},"mark":{"type":"text","fontSize":11,"color":"#333","align":"left","baseline":"middle"},
 "encoding":{"x":{"datum":{"year":2022,"month":4,"date":21,"hours":15,"minutes":20},"type":"temporal","axis":null},"y":{"datum":1.0051,"type":"quantitative","axis":null},"text":{"value":"ADA/USD, 240, Synthetic"}}},
{"data":{"name":"one"},"mark":{"type":"text","font":"DejaVu Sans","fontSize":7,"color":"#aaa","align":"left","baseline":"middle"},
 "encoding":{"x":{"datum":{"year":2022,"month":4,"date":29,"hours":22,"minutes":34},"type":"temporal","axis":null},"y":{"datum":1.0051,"type":"quantitative","axis":null},"text":{"value":"▾"}}},
{"data":{"values":[{"t":"2022-04-30T21:33"},{"t":"2022-05-01T14:24"}]},"mark":{"type":"square","size":80,"color":"#e2e2e2","opacity":1},
 "encoding":{"x":{"field":"t","type":"temporal","axis":null},"y":{"datum":1.0051,"type":"quantitative","axis":null}}},
{"data":{"name":"one"},"mark":{"type":"text","fontSize":11,"color":"#333","align":"left","baseline":"middle"},
 "encoding":{"x":{"datum":{"year":2022,"month":5,"date":2,"hours":7,"minutes":16},"type":"temporal","axis":null},"y":{"datum":1.0051,"type":"quantitative","axis":null},"text":{"value":"O0.4782 H0.4916 L0.4509 C0.4636"}}},
{"data":{"name":"one"},"mark":{"type":"text","fontSize":8,"color":"#444","align":"left","baseline":"middle"},
 "encoding":{"x":{"datum":{"year":2022,"month":4,"date":20,"hours":18,"minutes":20},"type":"temporal","axis":null},"y":{"datum":0.9733,"type":"quantitative","axis":null},"text":{"value":"EMA Cross (21, 55)"}}},
{"data":{"name":"one"},"mark":{"type":"text","font":"DejaVu Sans","fontSize":7,"color":"#aaa","align":"left","baseline":"middle"},
 "encoding":{"x":{"datum":{"year":2022,"month":4,"date":25,"hours":11,"minutes":0},"type":"temporal","axis":null},"y":{"datum":0.9733,"type":"quantitative","axis":null},"text":{"value":"▾"}}},
{"data":{"values":[{"t":"2022-04-26T06:26"},{"t":"2022-04-27T00:49"},{"t":"2022-04-27T18:27"}]},"mark":{"type":"square","size":72,"color":"#e2e2e2","opacity":1},
 "encoding":{"x":{"field":"t","type":"temporal","axis":null},"y":{"datum":0.9733,"type":"quantitative","axis":null}}},
{"data":{"name":"one"},"mark":{"type":"text","fontSize":8,"color":"#999","align":"left","baseline":"middle"},
 "encoding":{"x":{"datum":{"year":2022,"month":4,"date":28,"hours":9,"minutes":46},"type":"temporal","axis":null},"y":{"datum":0.9733,"type":"quantitative","axis":null},"text":{"value":"0.5447"}}},
{"data":{"name":"one"},"mark":{"type":"text","fontSize":8,"color":"#ff9800","align":"left","baseline":"middle"},
 "encoding":{"x":{"datum":{"year":2022,"month":4,"date":30,"hours":6,"minutes":13},"type":"temporal","axis":null},"y":{"datum":0.9733,"type":"quantitative","axis":null},"text":{"value":"0.5706"}}},
{"data":{"name":"one"},"mark":{"type":"text","fontSize":8,"color":"#2a2a9a","align":"left","baseline":"middle"},
 "encoding":{"x":{"datum":{"year":2022,"month":5,"date":2,"hours":4,"minutes":12},"type":"temporal","axis":null},"y":{"datum":0.9733,"type":"quantitative","axis":null},"text":{"value":"n/a"}}},
{"data":{"name":"one"},"mark":{"type":"text","fontSize":13.5,"fontWeight":"bold","color":"#111","align":"left","baseline":"alphabetic"},
 "encoding":{"x":{"datum":{"year":2022,"month":4,"date":21,"hours":1,"minutes":32},"type":"temporal","axis":null},"y":{"datum":0.3973,"type":"quantitative","axis":null},"text":{"value":"Investing"}}},
{"data":{"name":"one"},"mark":{"type":"text","fontSize":10,"color":"#666","align":"left","baseline":"alphabetic"},
 "encoding":{"x":{"datum":{"year":2022,"month":4,"date":24,"hours":21,"minutes":29},"type":"temporal","axis":null},"y":{"datum":0.3973,"type":"quantitative","axis":null},"text":{"value":".com"}}}
]
},
{
"width":1024,"height":135,
"layer":[
{"data":{"name":"one"},"mark":{"type":"rect","color":"#f3e5f5","opacity":1},
 "encoding":{"x":{"datum":{"year":2022,"month":4,"date":20,"hours":13,"minutes":16},"type":"temporal","scale":{"domain":[{"year":2022,"month":4,"date":20,"hours":13,"minutes":16},{"year":2022,"month":6,"date":24,"hours":22,"minutes":38}]},"axis":null},"x2":{"datum":{"year":2022,"month":6,"date":22,"hours":20,"minutes":2}},
 "y":{"datum":70,"type":"quantitative","scale":{"domain":[10.6,98.25],"zero":false,"nice":false},"axis":null},"y2":{"datum":30}}},
{"data":{"values":[{"v":70},{"v":30}]},"mark":{"type":"rule","color":"#9e9e9e","strokeWidth":1,"strokeDash":[4,3]},
 "encoding":{"y":{"field":"v","type":"quantitative","axis":null},"x":{"datum":{"year":2022,"month":4,"date":20,"hours":13,"minutes":16},"type":"temporal","axis":null},"x2":{"datum":{"year":2022,"month":6,"date":22,"hours":20,"minutes":2}}}},
{"data":{"values":[{"v":76.8437}]},"mark":{"type":"rule","color":"#6b6bff","strokeWidth":1.3},
 "encoding":{"y":{"field":"v","type":"quantitative","axis":null},"x":{"datum":{"year":2022,"month":4,"date":20,"hours":13,"minutes":16},"type":"temporal","axis":null},"x2":{"datum":{"year":2022,"month":6,"date":22,"hours":20,"minutes":2}}}},
{"data":{"values":[{"v":50}]},"mark":{"type":"rule","color":"#8ccbe0","strokeWidth":1.2},
 "encoding":{"y":{"field":"v","type":"quantitative","axis":null},"x":{"datum":{"year":2022,"month":4,"date":20,"hours":13,"minutes":16},"type":"temporal","axis":null},"x2":{"datum":{"year":2022,"month":6,"date":22,"hours":20,"minutes":2}}}},
{"data":{"values":[{"v":19.0902}]},"mark":{"type":"rule","color":"#ff7b7b","strokeWidth":1.3},
 "encoding":{"y":{"field":"v","type":"quantitative","axis":null},"x":{"datum":{"year":2022,"month":4,"date":20,"hours":13,"minutes":16},"type":"temporal","axis":null},"x2":{"datum":{"year":2022,"month":6,"date":22,"hours":20,"minutes":2}}}},
{"data":{"name":"candles"},"mark":{"type":"line","color":"#b86cc8","strokeWidth":1,"clip":true},
 "encoding":{"x":{"field":"t","type":"temporal","axis":null},"y":{"field":"r","type":"quantitative","axis":null}}},
{"data":{"values":[{"t":"2022-05-31T10:06","v":90.9},{"t":"2022-06-16T09:16","v":47.1}]},"mark":{"type":"line","color":"#ff5c5c","strokeWidth":1.2,"strokeDash":[5,4]},
 "encoding":{"x":{"field":"t","type":"temporal","axis":null},"y":{"field":"v","type":"quantitative","axis":null}}},
{"data":{"name":"one"},"mark":{"type":"rule","color":"#8a8a8a","strokeWidth":1},"encoding":{"x":{"datum":{"year":2022,"month":6,"date":22,"hours":20,"minutes":2},"type":"temporal","axis":null},"y":{"datum":98.25,"type":"quantitative","axis":null},"y2":{"datum":6.5}}},
{"data":{"name":"one"},"mark":{"type":"rule","color":"#8a8a8a","strokeWidth":1.5},"encoding":{"y":{"datum":10.6,"type":"quantitative","axis":null},"x":{"datum":{"year":2022,"month":4,"date":20,"hours":13,"minutes":16},"type":"temporal","axis":null},"x2":{"datum":{"year":2022,"month":6,"date":22,"hours":20,"minutes":2}}}},
{"data":{"name":"xticks"},"mark":{"type":"rule","color":"#a0a0a0","strokeWidth":1},
 "encoding":{"x":{"field":"t","type":"temporal","axis":null},"y":{"datum":10.6,"type":"quantitative","axis":null},"y2":{"datum":8.7}}},
{"data":{"name":"xticks"},"mark":{"type":"text","fontSize":8,"color":"#666","align":"center","baseline":"middle","dy":9},
 "encoding":{"x":{"field":"t","type":"temporal","axis":null},"y":{"datum":10.6,"type":"quantitative","axis":null},"text":{"field":"lab"}}},
{"data":{"values":[{"v":80},{"v":60},{"v":40}]},"mark":{"type":"text","fontSize":8,"color":"#7a7a7a","align":"center","baseline":"middle"},
 "encoding":{"x":{"datum":{"year":2022,"month":6,"date":23,"hours":20,"minutes":34},"type":"temporal","axis":null},"y":{"field":"v","type":"quantitative","axis":null},"text":{"field":"v","type":"quantitative","format":".4f"}}},
{"data":{"values":[{"v":76.8437,"lp":76.8437,"k":"b"},{"v":50,"lp":50,"k":"l"},{"v":24.9582,"lp":24.9582,"k":"p"},{"v":19.0902,"lp":17.6,"k":"r"}]},
 "layer":[
 {"mark":{"type":"tick","orient":"horizontal","size":30,"thickness":10,"opacity":1},
  "encoding":{"x":{"datum":{"year":2022,"month":6,"date":23,"hours":20,"minutes":34},"type":"temporal","axis":null},"y":{"field":"lp","type":"quantitative","axis":null},
  "color":{"field":"k","type":"nominal","legend":null,"scale":{"domain":["b","l","p","r"],"range":["#0000ff","#8fd4e2","#800080","#ff0000"]}}}},
 {"mark":{"type":"text","fontSize":8,"align":"center","baseline":"middle"},
  "encoding":{"x":{"datum":{"year":2022,"month":6,"date":23,"hours":20,"minutes":34},"type":"temporal","axis":null},"y":{"field":"lp","type":"quantitative","axis":null},
  "text":{"field":"v","type":"quantitative","format":".4f"},
  "color":{"condition":{"test":"datum.k == 'l'","value":"#1a3a40"},"value":"#ffffff"}}}
 ]},
{"data":{"name":"one"},"mark":{"type":"text","fontSize":8,"color":"#444","align":"left","baseline":"middle"},
 "encoding":{"x":{"datum":{"year":2022,"month":4,"date":20,"hours":18,"minutes":20},"type":"temporal","axis":null},"y":{"datum":93.4,"type":"quantitative","axis":null},"text":{"value":"RSI (14)"}}},
{"data":{"name":"one"},"mark":{"type":"text","font":"DejaVu Sans","fontSize":7,"color":"#aaa","align":"left","baseline":"middle"},
 "encoding":{"x":{"datum":{"year":2022,"month":4,"date":22,"hours":18,"minutes":0},"type":"temporal","axis":null},"y":{"datum":93.4,"type":"quantitative","axis":null},"text":{"value":"▾"}}},
{"data":{"values":[{"t":"2022-04-23T17:08"},{"t":"2022-04-24T10:00"},{"t":"2022-04-25T02:51"}]},"mark":{"type":"square","size":72,"color":"#e2e2e2","opacity":1},
 "encoding":{"x":{"field":"t","type":"temporal","axis":null},"y":{"datum":93.4,"type":"quantitative","axis":null}}},
{"data":{"name":"one"},"mark":{"type":"text","fontSize":8,"color":"#8b1a8b","align":"left","baseline":"middle"},
 "encoding":{"x":{"datum":{"year":2022,"month":4,"date":25,"hours":18,"minutes":56},"type":"temporal","axis":null},"y":{"datum":93.4,"type":"quantitative","axis":null},"text":{"value":"24.9582"}}}
]
}
]
}
